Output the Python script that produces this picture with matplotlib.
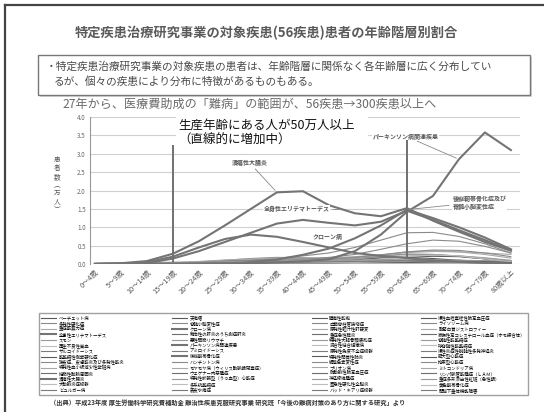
import matplotlib.pyplot as plt
from matplotlib.lines import Line2D
from matplotlib.patches import Rectangle

plt.rcParams['font.family'] = ['Noto Sans CJK JP', 'DejaVu Sans']

ages = ["0～4歳", "5～9歳", "10～14歳", "15～19歳", "20～24歳", "25～29歳",
        "30～34歳", "35～39歳", "40～44歳", "45～49歳", "50～54歳", "55～59歳",
        "60～64歳", "65～69歳", "70～74歳", "75～79歳", "80歳以上"]

diseases = [
    "ベーチェット病", "多発性硬化症", "重症筋無力症", "全身性エリテマトーデス",
    "スモン", "再生不良性貧血", "サルコイドーシス", "筋萎縮性側索硬化症",
    "強皮症、皮膚筋炎及び多発性筋炎", "特発性血小板減少性紫斑病", "結節性動脈周囲炎",
    "潰瘍性大腸炎", "大動脈炎症候群", "ビュルガー病", "天疱瘡", "脊髄小脳変性症",
    "クローン病", "難治性の肝炎のうち劇症肝炎", "悪性関節リウマチ", "パーキンソン病関連疾患",
    "アミロイドーシス", "後縦靭帯骨化症", "ハンチントン病", "モヤモヤ病（ウィリス動脈輪閉塞症）",
    "ウェゲナー肉芽腫症", "特発性拡張型（うっ血型）心筋症", "多系統萎縮症", "表皮水疱症",
    "膿疱性乾癬", "広範脊柱管狭窄症", "原発性胆汁性肝硬変", "重症急性膵炎",
    "特発性大腿骨頭壊死症", "混合性結合組織病", "原発性免疫不全症候群", "特発性間質性肺炎",
    "網膜色素変性症", "プリオン病", "肺動脈性肺高血圧症", "神経線維腫症",
    "亜急性硬化性全脳炎", "バッド・キアリ症候群", "慢性血栓塞栓性肺高血圧症", "ライソゾーム病",
    "副腎白質ジストロフィー", "家族性高コレステロール血症（ホモ接合体）", "脊髄性筋萎縮症",
    "球脊髄性筋萎縮症", "慢性炎症性脱髄性多発神経炎", "肥大型心筋症", "拘束型心筋症",
    "ミトコンドリア病", "リンパ脈管筋腫症（ＬＡＭ）", "重症多形滲出性紅斑（急性期）",
    "黄色靭帯骨化症", "間脳下垂体機能障害",
]

# 患者数（万人）, one row per disease, one value per age group
patients = [
    [0, 0, 0, 0.01, 0.03, 0.07, 0.10, 0.13, 0.15, 0.16, 0.16, 0.17, 0.18, 0.15, 0.10, 0.06, 0.03],
    [0, 0, 0.01, 0.02, 0.05, 0.10, 0.15, 0.18, 0.17, 0.14, 0.11, 0.08, 0.07, 0.05, 0.03, 0.01, 0.01],
    [0.01, 0.02, 0.01, 0.02, 0.04, 0.07, 0.09, 0.12, 0.13, 0.13, 0.14, 0.17, 0.22, 0.24, 0.22, 0.17, 0.10],
    [0, 0, 0.02, 0.15, 0.35, 0.60, 0.85, 1.10, 1.20, 1.12, 1.05, 1.15, 1.45, 1.20, 0.92, 0.65, 0.38],
    [0, 0, 0, 0, 0, 0, 0, 0, 0, 0, 0, 0.01, 0.02, 0.04, 0.05, 0.04, 0.03],
    [0.01, 0.02, 0.02, 0.03, 0.03, 0.03, 0.04, 0.04, 0.04, 0.05, 0.06, 0.08, 0.09, 0.10, 0.10, 0.09, 0.07],
    [0, 0, 0, 0.02, 0.06, 0.09, 0.10, 0.10, 0.10, 0.12, 0.16, 0.22, 0.27, 0.26, 0.21, 0.14, 0.07],
    [0, 0, 0, 0, 0, 0, 0.01, 0.02, 0.04, 0.07, 0.11, 0.16, 0.19, 0.21, 0.20, 0.14, 0.08],
    [0, 0.01, 0.01, 0.02, 0.04, 0.07, 0.11, 0.16, 0.22, 0.30, 0.45, 0.65, 0.85, 0.86, 0.75, 0.55, 0.30],
    [0.03, 0.04, 0.04, 0.05, 0.07, 0.11, 0.14, 0.16, 0.16, 0.17, 0.20, 0.25, 0.31, 0.34, 0.33, 0.30, 0.26],
    [0, 0, 0, 0, 0.01, 0.01, 0.01, 0.02, 0.02, 0.03, 0.04, 0.06, 0.08, 0.10, 0.10, 0.08, 0.06],
    [0, 0.02, 0.08, 0.28, 0.62, 1.05, 1.50, 1.95, 1.98, 1.60, 1.38, 1.30, 1.52, 1.18, 0.88, 0.60, 0.36],
    [0, 0, 0, 0.01, 0.02, 0.03, 0.04, 0.05, 0.05, 0.05, 0.06, 0.07, 0.08, 0.08, 0.07, 0.05, 0.03],
    [0, 0, 0, 0, 0, 0, 0.01, 0.02, 0.03, 0.05, 0.07, 0.09, 0.10, 0.09, 0.07, 0.05, 0.03],
    [0, 0, 0, 0, 0.01, 0.01, 0.02, 0.03, 0.04, 0.05, 0.06, 0.07, 0.08, 0.09, 0.08, 0.07, 0.05],
    [0, 0, 0.01, 0.01, 0.02, 0.03, 0.05, 0.08, 0.12, 0.18, 0.26, 0.40, 0.55, 0.65, 0.62, 0.48, 0.30],
    [0, 0.01, 0.05, 0.20, 0.45, 0.68, 0.80, 0.74, 0.60, 0.45, 0.30, 0.22, 0.16, 0.10, 0.06, 0.03, 0.01],
    [0, 0, 0, 0, 0, 0, 0, 0, 0, 0, 0.01, 0.01, 0.01, 0.01, 0.01, 0, 0],
    [0, 0, 0, 0, 0, 0, 0, 0.01, 0.01, 0.02, 0.03, 0.05, 0.07, 0.09, 0.10, 0.09, 0.07],
    [0, 0, 0, 0, 0, 0.01, 0.02, 0.04, 0.07, 0.13, 0.35, 0.80, 1.42, 1.85, 2.85, 3.58, 3.10],
    [0, 0, 0, 0, 0, 0, 0, 0, 0.01, 0.01, 0.02, 0.03, 0.04, 0.05, 0.05, 0.04, 0.02],
    [0, 0, 0, 0, 0.01, 0.02, 0.05, 0.12, 0.25, 0.42, 0.70, 1.05, 1.48, 1.25, 1.00, 0.72, 0.40],
    [0, 0, 0, 0, 0, 0, 0, 0, 0, 0, 0.01, 0.01, 0.01, 0.01, 0, 0, 0],
    [0.02, 0.04, 0.04, 0.04, 0.04, 0.05, 0.06, 0.07, 0.08, 0.09, 0.09, 0.09, 0.08, 0.06, 0.04, 0.02, 0.01],
    [0, 0, 0, 0, 0, 0, 0, 0, 0.01, 0.01, 0.01, 0.02, 0.02, 0.02, 0.02, 0.01, 0.01],
    [0, 0.01, 0.01, 0.01, 0.02, 0.03, 0.05, 0.08, 0.11, 0.14, 0.18, 0.22, 0.26, 0.26, 0.22, 0.16, 0.09],
    [0, 0, 0, 0, 0, 0, 0, 0.01, 0.02, 0.04, 0.08, 0.14, 0.20, 0.24, 0.22, 0.14, 0.06],
    [0.01, 0.01, 0.01, 0, 0, 0, 0, 0, 0, 0, 0, 0, 0, 0, 0, 0, 0],
    [0, 0, 0, 0, 0, 0, 0, 0.01, 0.01, 0.01, 0.01, 0.01, 0.01, 0.01, 0.01, 0, 0],
    [0, 0, 0, 0, 0, 0, 0, 0, 0.01, 0.01, 0.02, 0.04, 0.06, 0.08, 0.08, 0.06, 0.03],
    [0, 0, 0, 0, 0, 0, 0.01, 0.03, 0.06, 0.10, 0.16, 0.24, 0.33, 0.36, 0.33, 0.26, 0.16],
    [0, 0, 0, 0, 0, 0, 0, 0, 0, 0.01, 0.01, 0.01, 0.01, 0.01, 0.01, 0, 0],
    [0, 0, 0, 0, 0.01, 0.02, 0.04, 0.06, 0.08, 0.10, 0.11, 0.12, 0.13, 0.11, 0.08, 0.05, 0.03],
    [0, 0, 0, 0, 0.01, 0.02, 0.03, 0.04, 0.05, 0.05, 0.05, 0.05, 0.05, 0.04, 0.03, 0.02, 0.01],
    [0, 0.01, 0.01, 0.01, 0, 0, 0, 0, 0, 0, 0, 0, 0, 0, 0, 0, 0],
    [0, 0, 0, 0, 0, 0, 0, 0, 0, 0.01, 0.01, 0.02, 0.04, 0.06, 0.07, 0.06, 0.04],
    [0, 0, 0, 0, 0.01, 0.02, 0.04, 0.06, 0.09, 0.13, 0.18, 0.25, 0.33, 0.38, 0.37, 0.30, 0.20],
    [0, 0, 0, 0, 0, 0, 0, 0, 0, 0, 0, 0, 0.01, 0.01, 0, 0, 0],
    [0, 0, 0, 0, 0, 0.01, 0.01, 0.01, 0.01, 0.01, 0.01, 0.01, 0.01, 0.01, 0.01, 0.01, 0],
    [0, 0, 0, 0.01, 0.01, 0.01, 0.01, 0.01, 0.01, 0.01, 0, 0, 0, 0, 0, 0, 0],
    [0, 0, 0, 0, 0, 0, 0, 0, 0, 0, 0, 0, 0, 0, 0, 0, 0],
    [0, 0, 0, 0, 0, 0, 0, 0, 0, 0, 0, 0, 0, 0, 0, 0, 0],
    [0, 0, 0, 0, 0, 0, 0, 0, 0, 0, 0, 0.01, 0.01, 0.01, 0.01, 0, 0],
    [0, 0.01, 0, 0, 0, 0, 0, 0, 0, 0, 0, 0, 0, 0, 0, 0, 0],
    [0, 0, 0, 0, 0, 0, 0, 0, 0, 0, 0, 0, 0, 0, 0, 0, 0],
    [0, 0, 0, 0, 0, 0, 0, 0, 0, 0, 0, 0, 0, 0, 0, 0, 0],
    [0, 0, 0, 0, 0, 0, 0, 0, 0, 0, 0, 0, 0, 0, 0, 0, 0],
    [0, 0, 0, 0, 0, 0, 0, 0, 0, 0, 0.01, 0.01, 0.01, 0.01, 0, 0, 0],
    [0, 0, 0, 0, 0, 0, 0, 0, 0.01, 0.01, 0.01, 0.01, 0.02, 0.02, 0.01, 0.01, 0],
    [0, 0, 0, 0, 0, 0, 0, 0, 0.01, 0.01, 0.01, 0.02, 0.02, 0.02, 0.02, 0.01, 0.01],
    [0, 0, 0, 0, 0, 0, 0, 0, 0, 0, 0, 0, 0, 0, 0, 0, 0],
    [0, 0, 0, 0, 0, 0, 0, 0, 0, 0, 0, 0, 0, 0, 0, 0, 0],
    [0, 0, 0, 0, 0, 0, 0, 0, 0, 0, 0, 0, 0, 0, 0, 0, 0],
    [0, 0, 0, 0, 0, 0, 0, 0, 0, 0, 0, 0, 0, 0, 0, 0, 0],
    [0, 0, 0, 0, 0, 0, 0, 0, 0, 0, 0.01, 0.01, 0.01, 0.01, 0.01, 0, 0],
    [0, 0.01, 0.02, 0.03, 0.03, 0.03, 0.04, 0.05, 0.05, 0.06, 0.07, 0.08, 0.09, 0.08, 0.06, 0.04, 0.02],
]

highlight = ["潰瘍性大腸炎", "全身性エリテマトーデス", "クローン病",
             "パーキンソン病関連疾患", "後縦靭帯骨化症"]

# the working-age span (15-64) marked with two vertical lines
divider_ages = ["15～19歳", "60～64歳"]
divider_low = [0.05, 0.19]
divider_high = [3.25, 3.38]

title = "特定疾患治療研究事業の対象疾患(56疾患)患者の年齢階層別割合"
box_lines = ["・特定疾患治療研究事業の対象疾患の患者は、年齢階層に関係なく各年齢層に広く分布してい",
             "るが、個々の疾患により分布に特徴があるものもある。"]
subtitle = "27年から、医療費助成の「難病」の範囲が、56疾患→300疾患以上へ"
callout = "生産年齢にある人が50万人以上\n（直線的に増加中）"
source = ("（出典）平成23年度 厚生労働科学研究費補助金 難治性疾患克服研究事業 研究班"
          "「今後の難病対策のあり方に関する研究」より")

W, H = 544, 412


def fx(px):
    return px / W


def fy(py):
    return 1 - py / H


fig = plt.figure(figsize=(5.44, 4.12), dpi=100)
fig.patch.set_facecolor('white')

# slide frame (top and left edges visible)
fig.add_artist(Line2D([fx(5), 1], [fy(5), fy(5)], color='#444444', lw=1.6))
fig.add_artist(Line2D([fx(5), fx(5)], [fy(5), 0], color='#444444', lw=1.6))

fig.text(fx(266), fy(33), title, ha='center', va='center', fontsize=9.5,
         fontweight='bold', color='#5a5a5a')

# text box with a soft shadow
fig.add_artist(Rectangle((fx(40), fy(97)), (532 - 40) / W, (97 - 57) / H,
                         transform=fig.transFigure, facecolor='#d8d8d8', edgecolor='none'))
fig.add_artist(Rectangle((fx(38), fy(95)), (530 - 38) / W, (95 - 55) / H,
                         transform=fig.transFigure, facecolor='white', edgecolor='#777777', lw=1.0))
fig.text(fx(46), fy(67), box_lines[0], ha='left', va='center', fontsize=7.7, color='#4a4a4a')
fig.text(fx(54), fy(81), box_lines[1], ha='left', va='center', fontsize=7.7, color='#4a4a4a')

fig.text(fx(62), fy(104), subtitle, ha='left', va='center', fontsize=8.7, color='#6a6a6a')

ax = fig.add_axes([fx(90), fy(264), (520 - 90) / W, (264 - 117) / H])
x = list(range(len(ages)))
grays = ['#5a5a5a', '#8a8a8a', '#a8a8a8', '#6e6e6e', '#9a9a9a', '#bdbdbd', '#7c7c7c']

handles = []
for i, (name, vals) in enumerate(zip(diseases, patients)):
    if name in highlight:
        ln, = ax.plot(x, vals, color='#747474', lw=1.5, zorder=3)
    else:
        ln, = ax.plot(x, vals, color=grays[i % len(grays)], lw=0.8, zorder=2)
    handles.append(ln)

ax.set_xlim(-0.19, 16.35)
ax.set_ylim(0, 4.0)
yt = [0, 0.5, 1.0, 1.5, 2.0, 2.5, 3.0, 3.5, 4.0]
ax.set_yticks(yt)
ax.set_yticklabels([f"{v:.1f}" for v in yt], fontsize=4.5, color='#666666')
ax.set_xticks(x)
ax.set_xticklabels(ages, rotation=45, ha='right', rotation_mode='anchor',
                   fontsize=5.2, color='#555555')
ax.tick_params(length=0, pad=3)
ax.grid(axis='y', color='#d0d0d0', lw=0.8)
ax.set_axisbelow(True)
for side in ['top', 'right', 'bottom']:
    ax.spines[side].set_visible(False)
ax.spines['left'].set_color('#999999')

fig.text(fx(57), fy(185), "患\n者\n数\n︵\n万\n人\n︶", ha='center', va='center',
         fontsize=4.8, color='#555555', linespacing=1.05)

# vertical markers for the working-age span
ax.vlines([ages.index(a) for a in divider_ages], divider_low, divider_high,
          color='#707070', lw=1.4, zorder=4)

# disease labels inside the plot
uc = patients[diseases.index("潰瘍性大腸炎")]
pk = patients[diseases.index("パーキンソン病関連疾患")]
op = patients[diseases.index("後縦靭帯骨化症")]
lab = dict(fontsize=4.3, color='#555555', fontweight='bold', zorder=5,
           bbox=dict(facecolor='white', edgecolor='none', pad=0.3),
           arrowprops=dict(arrowstyle='-', color='#888888', lw=0.6))
ax.annotate("潰瘍性大腸炎", xy=(7, uc[7]), xytext=(5.95, 2.75), ha='center', va='center', **lab)
ax.annotate("全身性エリテマトーデス", xy=(9.5, 1.48), xytext=(7.75, 1.5), ha='center', va='center', **lab)
ax.text(8.95, 0.76, "クローン病", ha='center', va='center', fontsize=4.3, color='#555555',
        fontweight='bold', zorder=5)
ax.annotate("パーキンソン病関連疾患", xy=(14, pk[14]), xytext=(11.95, 3.48),
            ha='center', va='center', **lab)
ax.annotate("後縦靭帯骨化症及び\n脊髄小脳変性症", xy=(12, op[12]), xytext=(13.75, 1.68),
            ha='left', va='center', linespacing=1.1, **lab)

# call-out box
fig.add_artist(Rectangle((fx(176), fy(151)), (368 - 176) / W, (151 - 113) / H,
                         transform=fig.transFigure, facecolor='white', edgecolor='none'))
fig.text(fx(178), fy(133), callout, ha='left', va='center', fontsize=9, color='#111111',
         linespacing=1.25)

fig.legend(handles, diseases, ncol=4, loc='upper left', mode='expand',
           bbox_to_anchor=(fx(37), fy(397), (530 - 37) / W, (397 - 311) / H),
           fontsize=3.2, frameon=True, fancybox=False, edgecolor='#888888',
           handlelength=3.4, handletextpad=0.6, labelspacing=0.12, borderpad=0.45,
           columnspacing=1.0)

fig.text(fx(50), fy(402), source, ha='left', va='center', fontsize=4.5, color='#333333',
         fontweight='bold')

fig.savefig('out.png', dpi=100)
